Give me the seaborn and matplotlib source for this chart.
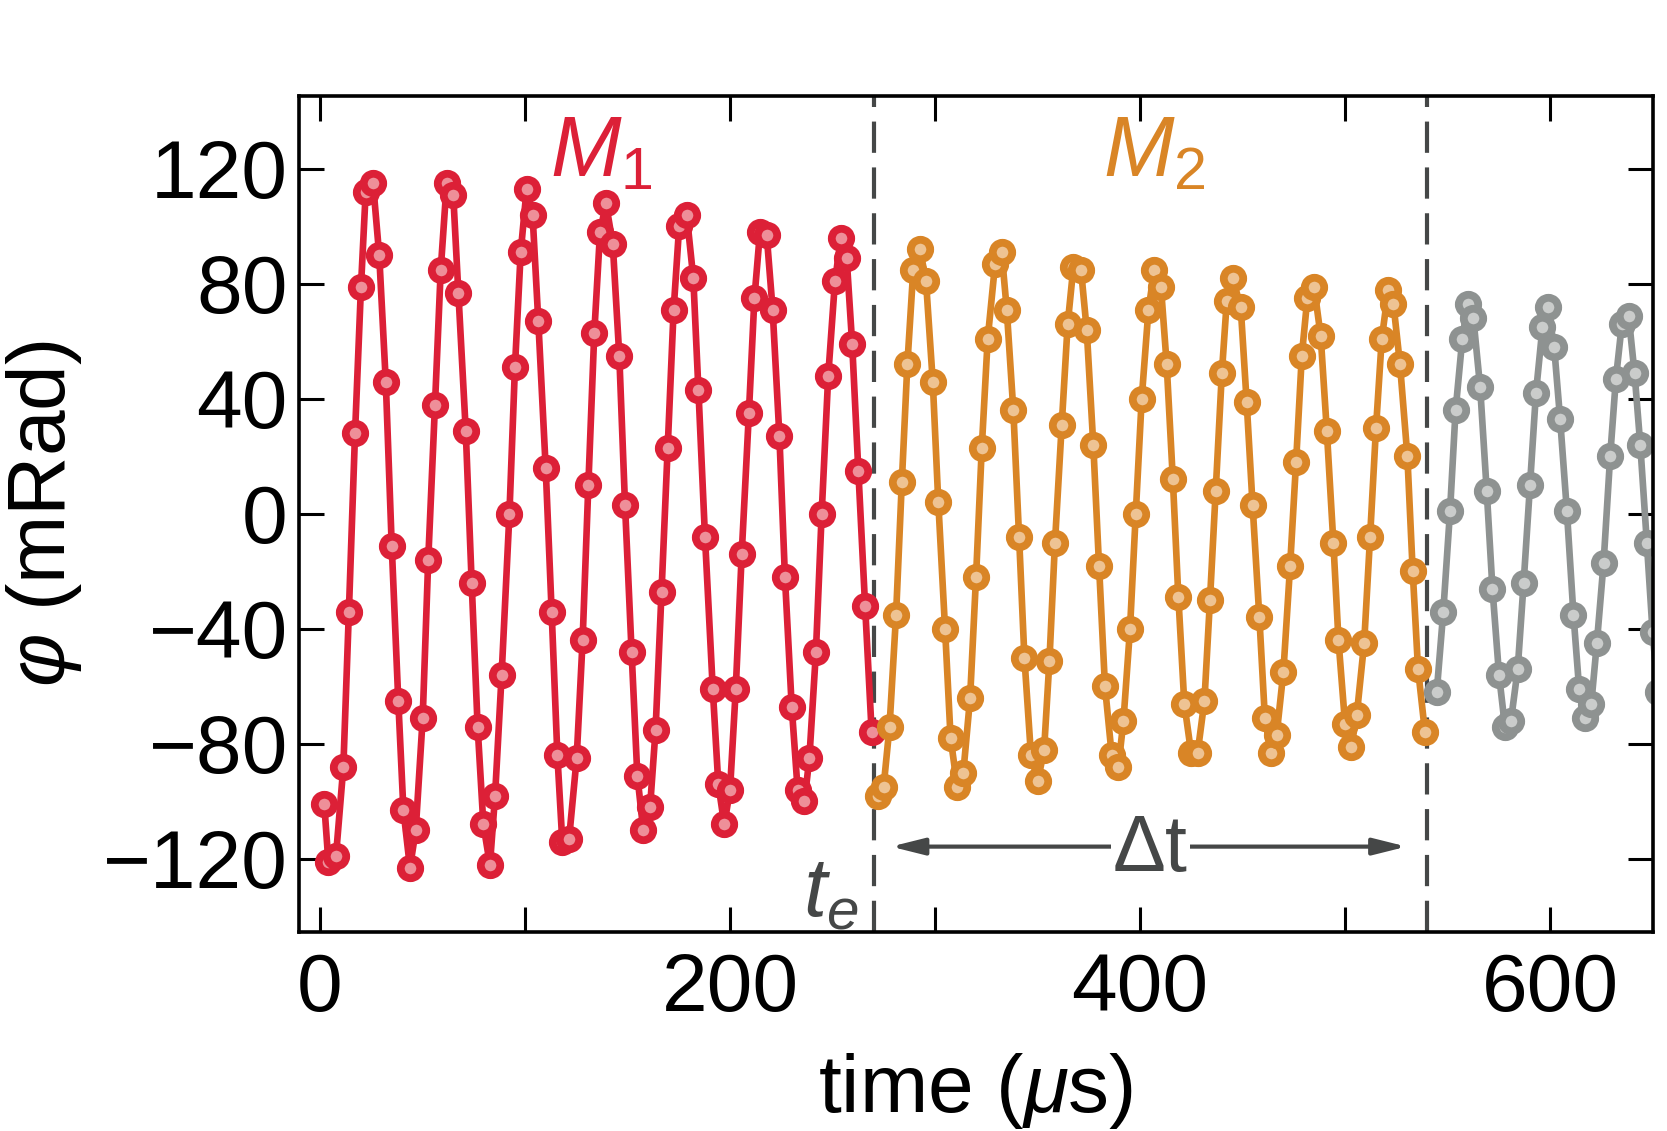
import matplotlib
matplotlib.use("Agg")
import matplotlib.pyplot as plt
import pandas as pd
import seaborn as sns
from matplotlib.patches import ArrowStyle

# ---------------- data ----------------
red_t = [2.1, 4.1, 7.8, 11.4, 14.1, 17.1, 20.0, 22.3, 25.9, 28.9, 32.1, 35.0, 38.2, 40.7,
         43.9, 46.7, 50.1, 52.8, 56.1, 58.9, 61.8, 65.0, 67.5, 71.1, 74.0, 76.9, 79.7, 82.9,
         85.4, 88.6, 92.4, 95.1, 97.9, 100.8, 103.7, 106.5, 110.1, 113.0, 115.8, 118.2, 121.5,
         125.2, 128.1, 130.9, 133.8, 136.6, 139.5, 142.8, 146.0, 148.8, 152.0, 154.8, 157.7,
         161.0, 163.7, 166.6, 169.6, 172.5, 175.2, 178.9, 182.1, 184.6, 187.8, 191.6, 194.3,
         197.2, 200.0, 202.8, 205.7, 209.2, 211.9, 214.6, 217.9, 220.8, 224.1, 226.8, 230.1,
         233.0, 236.3, 238.7, 241.9, 244.7, 247.9, 251.2, 254.1, 256.9, 259.6, 262.6, 265.9,
         269.1]
red_v = [-101, -121, -119, -88, -34, 28, 79, 112, 115, 90, 46, -11, -65, -103,
         -123, -110, -71, -16, 38, 85, 115, 111, 77, 29, -24, -74, -108, -122,
         -98, -56, 0, 51, 91, 113, 104, 67, 16, -34, -84, -114, -113,
         -85, -44, 10, 63, 98, 108, 94, 55, 3, -48, -91, -110,
         -102, -75, -27, 23, 71, 100, 104, 82, 43, -8, -61, -94,
         -108, -96, -61, -14, 35, 75, 98, 97, 71, 27, -22, -67,
         -96, -100, -85, -48, 0, 48, 81, 96, 89, 59, 15, -32,
         -76]

orange_t = [272.4, 274.9, 277.8, 281.0, 283.8, 286.5, 289.4, 292.7, 295.6, 298.9, 301.6,
            304.9, 307.6, 310.9, 313.8, 317.1, 320.0, 322.8, 325.7, 329.3, 332.5, 335.0,
            338.2, 341.0, 343.6, 346.8, 350.1, 353.2, 355.8, 358.5, 361.8, 364.7, 367.5,
            371.2, 374.0, 377.2, 380.0, 382.9, 386.2, 389.4, 391.9, 395.1, 397.9, 400.8,
            404.1, 407.0, 410.2, 413.0, 416.0, 418.7, 421.6, 424.9, 428.1, 431.4, 434.1,
            436.9, 439.9, 442.3, 445.2, 449.1, 452.0, 454.9, 458.2, 460.9, 463.8, 466.6,
            469.9, 473.2, 476.1, 478.9, 481.6, 484.9, 488.1, 491.1, 494.3, 496.8, 500.0,
            503.0, 505.7, 509.3, 512.2, 515.1, 517.9, 521.1, 523.6, 526.8, 530.4, 533.0,
            535.6, 539.0]
orange_v = [-98, -95, -74, -35, 11, 52, 85, 92, 81, 46, 4,
            -40, -78, -95, -90, -64, -22, 23, 61, 87, 91, 71,
            36, -8, -50, -84, -93, -82, -51, -10, 31, 66, 86,
            85, 64, 24, -18, -60, -84, -88, -72, -40, 0, 40,
            71, 85, 79, 52, 12, -29, -66, -83, -83, -65, -30,
            8, 49, 74, 82, 72, 39, 3, -36, -71, -83, -77,
            -55, -18, 18, 55, 75, 79, 62, 29, -10, -44, -73,
            -81, -70, -45, -8, 30, 61, 78, 73, 52, 20, -20,
            -54, -76]

gray_t = [544.7, 547.9, 551.2, 553.9, 557.2, 559.8, 562.6, 565.9, 569.1, 571.9, 575.1,
          578.0, 580.9, 584.2, 587.1, 590.2, 593.1, 596.3, 598.9, 602.0, 604.9, 608.2,
          611.4, 614.2, 617.1, 620.1, 622.8, 626.1, 629.3, 632.1, 635.0, 638.3, 641.2,
          644.0, 647.2, 650.0, 652.6]
gray_v = [-62, -34, 1, 36, 61, 73, 68, 44, 8, -26, -56,
          -74, -72, -54, -24, 10, 42, 65, 72, 58, 33, 1,
          -35, -61, -71, -66, -45, -17, 20, 47, 66, 69, 49,
          24, -10, -41, -62]

x_ticks = [0, 100, 200, 300, 400, 500, 600]
x_tick_labels = ["0", "", "200", "", "400", "", "600"]
y_ticks = [-120, -80, -40, 0, 40, 80, 120]
y_tick_labels = ["\u2212120", "\u221280", "\u221240", "0", "40", "80", "120"]
boundaries = [270, 540]

# ---------------- style ----------------
RED, RED_FILL = "#DC2037", "#EE8F99"
ORA, ORA_FILL = "#D98526", "#EEC393"
GRY, GRY_FILL = "#8E9291", "#CACCCB"
DARK = "#454747"

sns.set_theme(style="ticks")
plt.rcParams["font.family"] = ["Liberation Sans", "DejaVu Sans"]
plt.rcParams["mathtext.fontset"] = "custom"
plt.rcParams["mathtext.rm"] = "Liberation Sans"
plt.rcParams["mathtext.it"] = "Liberation Sans:italic"
plt.rcParams["mathtext.bf"] = "Liberation Sans:bold"

fig = plt.figure(figsize=(16.67, 11.31), dpi=100)
fig.patch.set_facecolor("white")
ax = fig.add_axes([0.1794, 0.1757, 0.8122, 0.7397])
ax.set_facecolor("white")

for xb in boundaries:
    ax.axvline(xb, color=DARK, lw=3.0, dashes=(7.5, 3.5), zorder=1)

segments = [(red_t, red_v, RED, RED_FILL),
            (orange_t, orange_v, ORA, ORA_FILL),
            (gray_t, gray_v, GRY, GRY_FILL)]
for t, v, c, fc in segments:
    df = pd.DataFrame({"time": t, "phi": v})
    sns.lineplot(data=df, x="time", y="phi", ax=ax, color=c, linewidth=4.8,
                 marker="o", markersize=14, markerfacecolor=fc,
                 markeredgecolor=c, markeredgewidth=5.6, errorbar=None, zorder=3)

ax.set_xlim(-10.2, 650.2)
ax.set_ylim(-145.5, 145.5)
ax.set_xticks(x_ticks)
ax.set_xticklabels(x_tick_labels)
ax.set_yticks(y_ticks)
ax.set_yticklabels(y_tick_labels)
ax.tick_params(direction="in", length=18, width=2.2, top=True, right=True,
               labelsize=59, colors="black")
ax.tick_params(axis="x", pad=14.5)
ax.tick_params(axis="y", pad=8)
for sp in ax.spines.values():
    sp.set_linewidth(2.6)
    sp.set_color("black")
    sp.set_zorder(5)

ax.set_xlabel("time ($\\mu$s)", fontsize=59, color="black")
ax.xaxis.set_label_coords(0.5, -0.2146)
ax.xaxis.label.set_va("baseline")
ax.set_ylabel("$\\varphi$ (mRad)", fontsize=59, color="black")
ax.yaxis.label.set_rotation_mode("anchor")
ax.yaxis.set_label_coords(-0.1728, 0.5)
ax.yaxis.label.set_va("baseline")

# annotations
ax.text(112, 117.3, "$M_1$", ha="left", va="baseline", fontsize=61, color=RED, zorder=4)
ax.text(382, 117.3, "$M_2$", ha="left", va="baseline", fontsize=61, color=ORA, zorder=4)
ax.text(262.5, -139.8, "$t_e$", ha="right", va="baseline", fontsize=60, color=DARK, zorder=4)

ax.annotate("", xy=(530, -115.7), xytext=(278.5, -115.7),
            arrowprops=dict(arrowstyle=ArrowStyle("<|-|>", head_length=1.0, head_width=0.25),
                            mutation_scale=20, lw=3, color=DARK, shrinkA=0, shrinkB=0),
            zorder=2)
ax.text(405.1, -124.2, "\u0394t", ha="center", va="baseline", fontsize=57, color=DARK,
        bbox=dict(boxstyle="square,pad=0.03", fc="white", ec="none"), zorder=2.5)

fig.savefig("out.png", dpi=100)
